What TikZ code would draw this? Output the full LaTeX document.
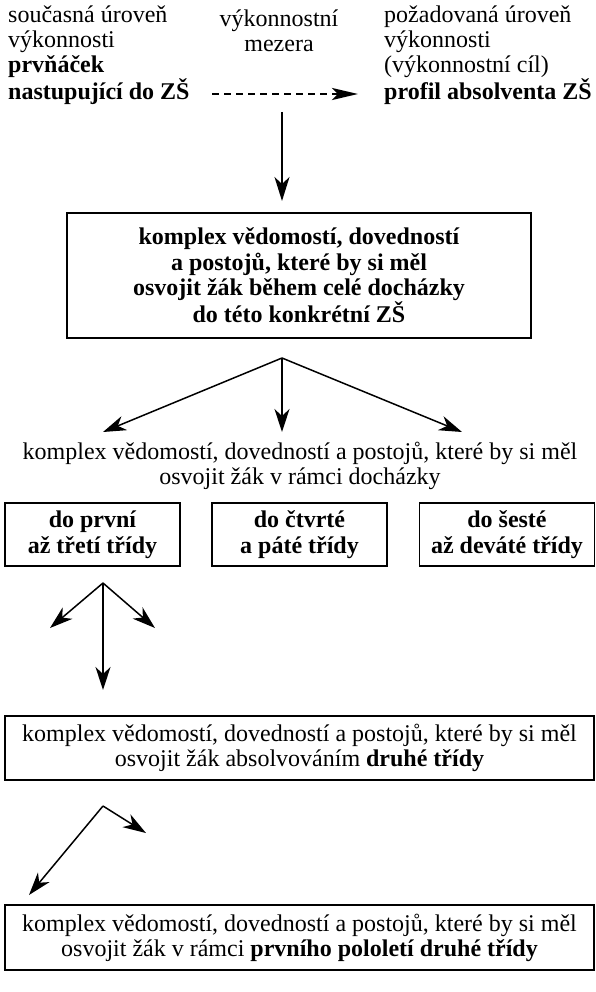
\documentclass[tikz,border=0pt]{standalone}
\usepackage{fontspec}
\setmainfont{Liberation Serif}
\usetikzlibrary{arrows.meta}
\begin{document}
\begin{tikzpicture}[x=1pt,y=-1pt,
  every node/.style={font=\fontsize{24}{25}\selectfont, inner sep=0pt},
  box/.style={draw, line width=1.5pt, align=center},
  boldbox/.style={box, font=\fontsize{24}{25.5}\selectfont\bfseries},
  arr/.style={line width=1.5pt, -{Stealth[length=23pt,width=15pt,inset=7pt]}},
  bigarr/.style={line width=1.6pt, -{Stealth[length=24pt,width=15pt,inset=7pt]}},
  dasharr/.style={line width=2.8pt, dash pattern=on 7pt off 5pt, -{Stealth[length=26pt,width=12pt,inset=6pt]}}]
\useasboundingbox (0,0) rectangle (596,992);

% top row
\node[anchor=west, align=left] (cur) at (8,55.5) {současná úroveň\\výkonnosti\\\textbf{prvňáček}\\\textbf{nastupující do ZŠ}};
\node[align=center] (gap) at (279,30.5) {výkonnostní\\mezera};
\node[anchor=west, align=left] (goal) at (384,55.5) {požadovaná úroveň\\výkonnosti\\(výkonnostní cíl)\\\textbf{profil absolventa ZŠ}};
\coordinate (ds) at (212,94);
\coordinate (de) at (358,94);
\draw[dasharr] (ds) -- (de);

% down to box 1
\coordinate (a0) at (282,112);
\coordinate (a1) at (282,201);
\draw[bigarr] (a0) -- (a1);

\node[boldbox, minimum width=464pt, minimum height=125pt] (b1) at (299,275.5)
  {komplex vědomostí, dovedností\\a postojů, které by si měl\\osvojit žák během celé docházky\\do této konkrétní ZŠ};

% split
\coordinate (s0) at (282,358);
\coordinate (s1) at (103,432);
\coordinate (s2) at (282,432);
\coordinate (s3) at (462,432);
\draw[arr] (s0) -- (s1);
\draw[arr] (s0) -- (s2);
\draw[arr] (s0) -- (s3);

\node[align=center] (mid) at (300,466)
  {komplex vědomostí, dovedností a postojů, které by si měl\\osvojit žák v rámci docházky};

\node[boldbox, minimum width=175pt, minimum height=63pt] (ba) at (92.5,534.5) {do první\\až třetí třídy};
\node[boldbox, minimum width=175pt, minimum height=63pt] (bb) at (299.5,534.5) {do čtvrté\\a páté třídy};
\node[boldbox, minimum width=175pt, minimum height=63pt] (bc) at (507,534.5) {do šesté\\až deváté třídy};

% split under first box
\coordinate (t0) at (103,583);
\coordinate (t1) at (50,628);
\coordinate (t2) at (155,628);
\coordinate (t3) at (103,690);
\draw[arr] (t0) -- (t1);
\draw[arr] (t0) -- (t2);
\draw[arr] (t0) -- (t3);

\node[box, minimum width=589pt, minimum height=64pt] (b2) at (299.5,748)
  {komplex vědomostí, dovedností a postojů, které by si měl\\osvojit žák absolvováním \textbf{druhé třídy}};

\coordinate (u0) at (103,806);
\coordinate (u1) at (146,833);
\coordinate (u2) at (29,895);
\draw[arr] (u0) -- (u1);
\draw[arr] (u0) -- (u2);

\node[box, minimum width=589pt, minimum height=65pt] (b3) at (299.5,937.5)
  {komplex vědomostí, dovedností a postojů, které by si měl\\osvojit žák v rámci \textbf{prvního pololetí druhé třídy}};
\end{tikzpicture}
\end{document}
